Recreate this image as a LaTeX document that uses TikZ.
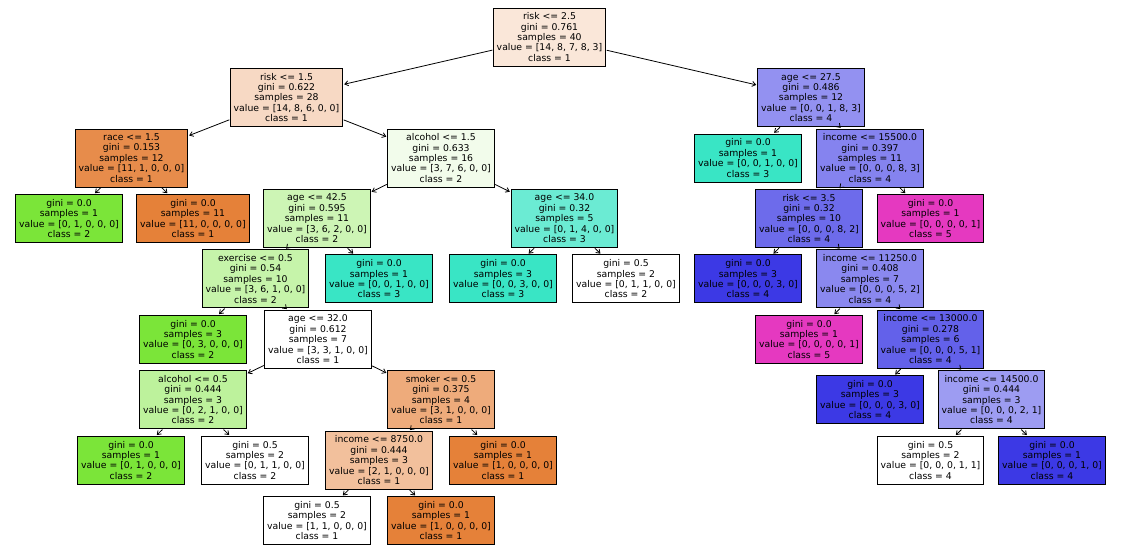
\documentclass[tikz,border=0pt]{standalone}
\usepackage{fontspec}
\setmainfont{DejaVu Sans}
\usetikzlibrary{arrows.meta}
\definecolor{clsA}{HTML}{E58139}
\definecolor{clsB}{HTML}{7BE539}
\definecolor{clsC}{HTML}{39E5C5}
\definecolor{clsD}{HTML}{3C39E5}
\definecolor{clsE}{HTML}{E539C0}
\tikzset{
  splitnode/.style={draw, line width=0.9bp, fill=white, minimum height=58bp, inner xsep=3.5bp, inner ysep=2bp, align=center, font=\fontsize{9.3bp}{10.4bp}\selectfont},
  leafnode/.style={splitnode, minimum height=48bp},
  treearrow/.style={-{Straight Barb[length=3.5bp, width=5bp]}, line width=0.8bp, shorten >=1bp, shorten <=0.5bp}
}

\begin{document}
\begin{tikzpicture}[x=1bp, y=-1bp]
  \useasboundingbox (0,0) rectangle (1130,558);
  % level 0-2
  \node[splitnode, fill=clsA!19] (n0) at (549.5,37) {risk <= 2.5\\gini = 0.761\\samples = 40\\value = [14, 8, 7, 8, 3]\\class = 1};
  \node[splitnode, fill=clsA!30] (n1) at (286.5,97.5) {risk <= 1.5\\gini = 0.622\\samples = 28\\value = [14, 8, 6, 0, 0]\\class = 1};
  \node[splitnode, fill=clsD!55.6] (n22) at (811,97.5) {age <= 27.5\\gini = 0.486\\samples = 12\\value = [0, 0, 1, 8, 3]\\class = 4};
  \node[splitnode, fill=clsA!90.9] (n2) at (131.5,158) {race <= 1.5\\gini = 0.153\\samples = 12\\value = [11, 1, 0, 0, 0]\\class = 1};
  \node[splitnode, fill=clsB!10] (n5) at (441,158) {alcohol <= 1.5\\gini = 0.633\\samples = 16\\value = [3, 7, 6, 0, 0]\\class = 2};
  \node[leafnode, fill=clsC] (n23) at (748,158) {gini = 0.0\\samples = 1\\value = [0, 0, 1, 0, 0]\\class = 3};
  \node[splitnode, fill=clsD!62.5] (n24) at (870,158) {income <= 15500.0\\gini = 0.397\\samples = 11\\value = [0, 0, 0, 8, 3]\\class = 4};
  % level 3
  \node[leafnode, fill=clsB] (n3) at (69,218.4) {gini = 0.0\\samples = 1\\value = [0, 1, 0, 0, 0]\\class = 2};
  \node[leafnode, fill=clsA] (n4) at (193,218.4) {gini = 0.0\\samples = 11\\value = [11, 0, 0, 0, 0]\\class = 1};
  \node[splitnode, fill=clsB!37.5] (n6) at (317,218.4) {age <= 42.5\\gini = 0.595\\samples = 11\\value = [3, 6, 2, 0, 0]\\class = 2};
  \node[splitnode, fill=clsC!75] (n19) at (564.5,218.4) {age <= 34.0\\gini = 0.32\\samples = 5\\value = [0, 1, 4, 0, 0]\\class = 3};
  \node[splitnode, fill=clsD!75] (n25) at (809,218.4) {risk <= 3.5\\gini = 0.32\\samples = 10\\value = [0, 0, 0, 8, 2]\\class = 4};
  \node[leafnode, fill=clsE] (n34) at (930.5,218.4) {gini = 0.0\\samples = 1\\value = [0, 0, 0, 0, 1]\\class = 5};
  % level 4
  \node[splitnode, fill=clsB!42.9] (n7) at (255.5,278.8) {exercise <= 0.5\\gini = 0.54\\samples = 10\\value = [3, 6, 1, 0, 0]\\class = 2};
  \node[leafnode, fill=clsC] (n18) at (379,278.8) {gini = 0.0\\samples = 1\\value = [0, 0, 1, 0, 0]\\class = 3};
  \node[leafnode, fill=clsC] (n20) at (503,278.8) {gini = 0.0\\samples = 3\\value = [0, 0, 3, 0, 0]\\class = 3};
  \node[leafnode] (n21) at (626,278.8) {gini = 0.5\\samples = 2\\value = [0, 1, 1, 0, 0]\\class = 2};
  \node[leafnode, fill=clsD] (n26) at (748,278.8) {gini = 0.0\\samples = 3\\value = [0, 0, 0, 3, 0]\\class = 4};
  \node[splitnode, fill=clsD!60] (n27) at (870,278.8) {income <= 11250.0\\gini = 0.408\\samples = 7\\value = [0, 0, 0, 5, 2]\\class = 4};
  % level 5
  \node[leafnode, fill=clsB] (n8) at (193,339.3) {gini = 0.0\\samples = 3\\value = [0, 3, 0, 0, 0]\\class = 2};
  \node[splitnode] (n9) at (318,339.3) {age <= 32.0\\gini = 0.612\\samples = 7\\value = [3, 3, 1, 0, 0]\\class = 1};
  \node[leafnode, fill=clsE] (n28) at (809,339.3) {gini = 0.0\\samples = 1\\value = [0, 0, 0, 0, 1]\\class = 5};
  \node[splitnode, fill=clsD!80] (n29) at (930.5,339.3) {income <= 13000.0\\gini = 0.278\\samples = 6\\value = [0, 0, 0, 5, 1]\\class = 4};
  % level 6
  \node[splitnode, fill=clsB!50] (n10) at (193,399.7) {alcohol <= 0.5\\gini = 0.444\\samples = 3\\value = [0, 2, 1, 0, 0]\\class = 2};
  \node[splitnode, fill=clsA!66.7] (n13) at (441,399.7) {smoker <= 0.5\\gini = 0.375\\samples = 4\\value = [3, 1, 0, 0, 0]\\class = 1};
  \node[leafnode, fill=clsD] (n30) at (870,399.7) {gini = 0.0\\samples = 3\\value = [0, 0, 0, 3, 0]\\class = 4};
  \node[splitnode, fill=clsD!50] (n31) at (991.5,399.7) {income <= 14500.0\\gini = 0.444\\samples = 3\\value = [0, 0, 0, 2, 1]\\class = 4};
  % level 7
  \node[leafnode, fill=clsB] (n11) at (131,460.2) {gini = 0.0\\samples = 1\\value = [0, 1, 0, 0, 0]\\class = 2};
  \node[leafnode] (n12) at (255,460.2) {gini = 0.5\\samples = 2\\value = [0, 1, 1, 0, 0]\\class = 2};
  \node[splitnode, fill=clsA!50] (n14) at (379,460.2) {income <= 8750.0\\gini = 0.444\\samples = 3\\value = [2, 1, 0, 0, 0]\\class = 1};
  \node[leafnode, fill=clsA] (n17) at (503,460.2) {gini = 0.0\\samples = 1\\value = [1, 0, 0, 0, 0]\\class = 1};
  \node[leafnode] (n32) at (930.5,460.2) {gini = 0.5\\samples = 2\\value = [0, 0, 0, 1, 1]\\class = 4};
  \node[leafnode, fill=clsD] (n33) at (1052,460.2) {gini = 0.0\\samples = 1\\value = [0, 0, 0, 1, 0]\\class = 4};
  % level 8
  \node[leafnode] (n15) at (317,520.6) {gini = 0.5\\samples = 2\\value = [1, 1, 0, 0, 0]\\class = 1};
  \node[leafnode, fill=clsA] (n16) at (441,520.6) {gini = 0.0\\samples = 1\\value = [1, 0, 0, 0, 0]\\class = 1};
  % arrows
  \draw[treearrow] (n0) -- (n1);
  \draw[treearrow] (n0) -- (n22);
  \draw[treearrow] (n1) -- (n2);
  \draw[treearrow] (n1) -- (n5);
  \draw[treearrow] (n2) -- (n3);
  \draw[treearrow] (n2) -- (n4);
  \draw[treearrow] (n5) -- (n6);
  \draw[treearrow] (n5) -- (n19);
  \draw[treearrow] (n6) -- (n7);
  \draw[treearrow] (n6) -- (n18);
  \draw[treearrow] (n7) -- (n8);
  \draw[treearrow] (n7) -- (n9);
  \draw[treearrow] (n9) -- (n10);
  \draw[treearrow] (n9) -- (n13);
  \draw[treearrow] (n10) -- (n11);
  \draw[treearrow] (n10) -- (n12);
  \draw[treearrow] (n13) -- (n14);
  \draw[treearrow] (n13) -- (n17);
  \draw[treearrow] (n14) -- (n15);
  \draw[treearrow] (n14) -- (n16);
  \draw[treearrow] (n19) -- (n20);
  \draw[treearrow] (n19) -- (n21);
  \draw[treearrow] (n22) -- (n23);
  \draw[treearrow] (n22) -- (n24);
  \draw[treearrow] (n24) -- (n25);
  \draw[treearrow] (n24) -- (n34);
  \draw[treearrow] (n25) -- (n26);
  \draw[treearrow] (n25) -- (n27);
  \draw[treearrow] (n27) -- (n28);
  \draw[treearrow] (n27) -- (n29);
  \draw[treearrow] (n29) -- (n30);
  \draw[treearrow] (n29) -- (n31);
  \draw[treearrow] (n31) -- (n32);
  \draw[treearrow] (n31) -- (n33);
\end{tikzpicture}
\end{document}
